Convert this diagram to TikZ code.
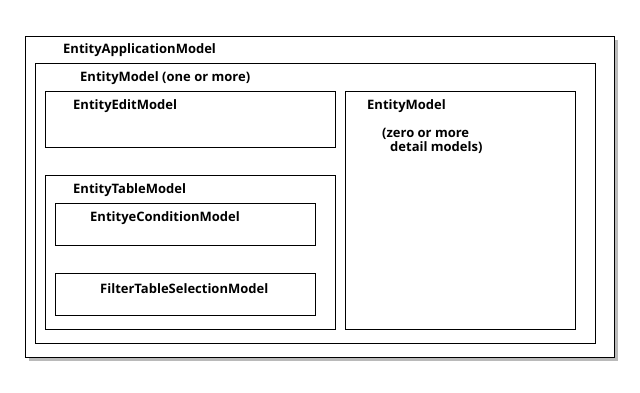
\documentclass[tikz,border=0pt]{standalone}
\usepackage{fontspec}
\setmainfont{Open Sans}
\usetikzlibrary{positioning,shadows}

\begin{document}
\begin{tikzpicture}[
  x=1pt, y=-1pt,
  every node/.style={font=\fontsize{13}{14}\selectfont\bfseries},
  box/.style={
    draw=black,
    line width=1.1pt,
    fill=white,
    anchor=north west,
    inner sep=0pt,
    minimum width=#1
  },
  outerbox/.style={
    box=#1,
    drop shadow={shadow xshift=3pt, shadow yshift=-3pt, fill=black!45, opacity=0.6}
  },
  title/.style={anchor=west, inner sep=0pt, align=left}
]
\useasboundingbox (0,0) rectangle (640,392);

% containers
\node[outerbox=589pt, minimum height=321pt] (app) at (25,36) {};
\node[box=560pt, minimum height=280pt] (model) at (35,63) {};
\node[box=290pt, minimum height=56pt] (edit) at (45,91) {};
\node[box=290pt, minimum height=154pt] (table) at (45,175) {};
\node[box=260pt, minimum height=42pt] (condition) at (55,203) {};
\node[box=260pt, minimum height=42pt] (filter) at (55,273) {};
\node[box=230pt, minimum height=238pt] (detail) at (345,91) {};

% labels
\node[title] (applbl) at (63,50.5) {EntityApplicationModel};
\node[title] (modellbl) at (80,78.5) {EntityModel (one or more)};
\node[title] (editlbl) at (73,106.5) {EntityEditModel};
\node[title] (tablelbl) at (73,190.5) {EntityTableModel};
\node[title] (condlbl) at (90,218.5) {EntityeConditionModel};
\node[title] (filterlbl) at (100,288.5) {FilterTableSelectionModel};
\node[title] (detaillbl) at (367,106.5) {EntityModel};
\node[title, anchor=north west] (detailnote) at (382,128.5)
  {(zero or more\\\hspace*{8pt}detail models)};
\end{tikzpicture}
\end{document}
